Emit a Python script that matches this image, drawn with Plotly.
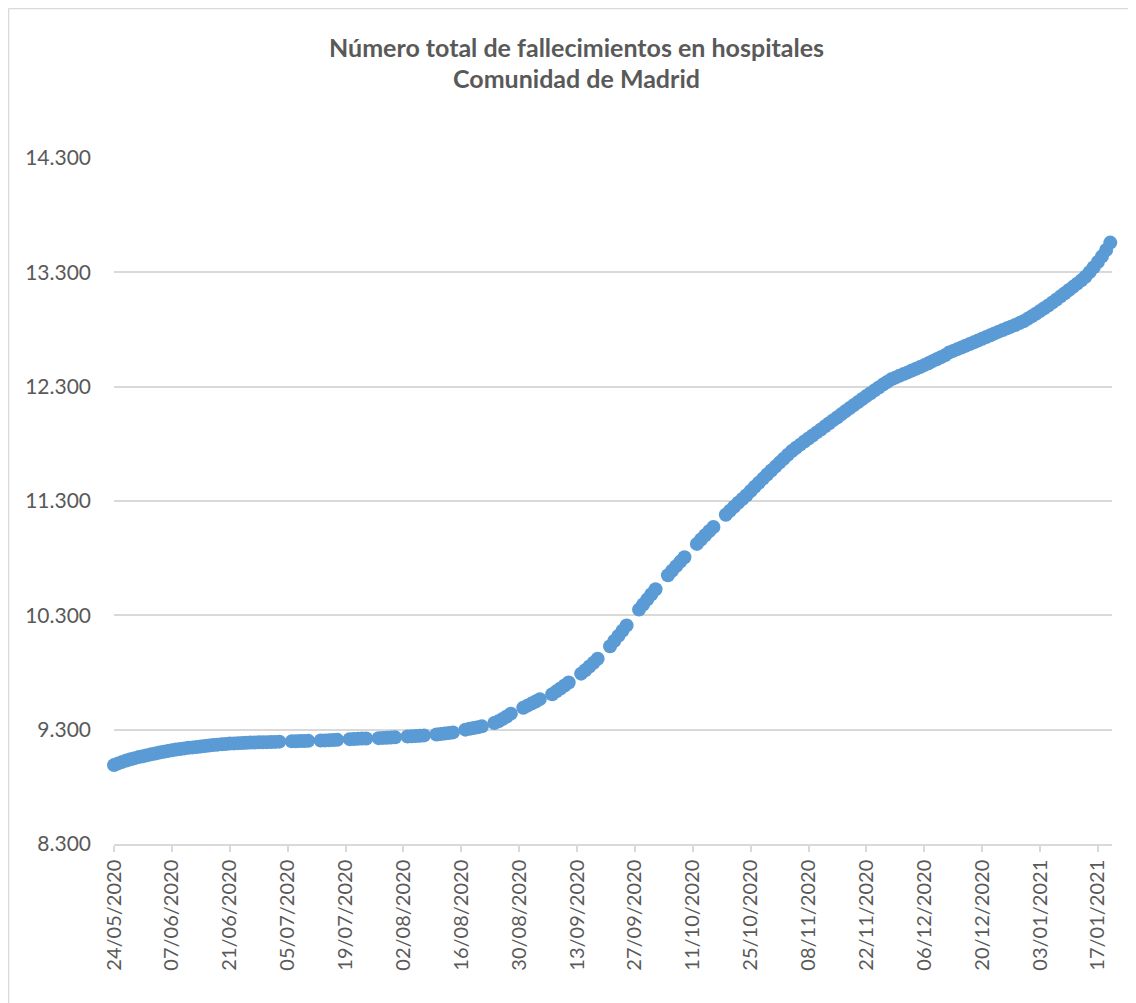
import pandas as pd
import plotly.graph_objects as go

# --- Data ---
# Daily values 24/05/2020 - 03/07/2020
vals_daily_1 = [8990, 9005, 9018, 9030, 9041, 9051, 9060, 9068, 9076, 9084,
                9092, 9100, 9107, 9114, 9120, 9126, 9131, 9136, 9141, 9145,
                9149, 9153, 9157, 9161, 9165, 9169, 9172, 9175, 9178, 9180,
                9182, 9184, 9185, 9187, 9188, 9189, 9190, 9191, 9192, 9193,
                9195]
# Weekday-only values 06/07/2020 - 23/10/2020 (no weekend reports)
vals_weekdays = [9198, 9199, 9200, 9201, 9202,
                 9205, 9206, 9208, 9209, 9211,
                 9217, 9219, 9220, 9222, 9223,
                 9226, 9228, 9229, 9231, 9233,
                 9240, 9242, 9244, 9247, 9250,
                 9258, 9262, 9266, 9270, 9276,
                 9300, 9307, 9314, 9321, 9329,
                 9358, 9374, 9393, 9415, 9440,
                 9492, 9510, 9528, 9547, 9567,
                 9610, 9635, 9660, 9686, 9712,
                 9790, 9820, 9852, 9885, 9920,
                 10030, 10075, 10120, 10165, 10212,
                 10350, 10395, 10440, 10485, 10528,
                 10650, 10690, 10730, 10770, 10808,
                 10925, 10963, 11000, 11037, 11073,
                 11180, 11215, 11250, 11285, 11318]
# Daily values 24/10/2020 - 20/01/2021
vals_daily_2 = [11350, 11387, 11424, 11460, 11496, 11532, 11567, 11601, 11636, 11670,
                11704, 11737, 11766, 11793, 11820, 11846, 11873, 11900, 11926, 11953,
                11980, 12007, 12033, 12060, 12087, 12114, 12140, 12166, 12192, 12218,
                12242, 12268, 12293, 12318, 12341, 12364, 12379, 12395, 12410, 12425,
                12441, 12456, 12471, 12488, 12505, 12523, 12540, 12557, 12574, 12598,
                12613, 12628, 12643, 12658, 12673, 12689, 12704, 12719, 12735, 12750,
                12766, 12781, 12796, 12810, 12825, 12840, 12856, 12872, 12893, 12915,
                12938, 12962, 12986, 13010, 13036, 13062, 13090, 13117, 13145, 13173,
                13201, 13230, 13262, 13302, 13345, 13390, 13440, 13495, 13560]

dates_1 = pd.date_range("2020-05-24", "2020-07-03", freq="D")
dates_w = pd.bdate_range("2020-07-06", "2020-10-23")
dates_2 = pd.date_range("2020-10-24", "2021-01-20", freq="D")

dates = list(dates_1) + list(dates_w) + list(dates_2)
values = vals_daily_1 + vals_weekdays + vals_daily_2

title_lines = ["Número total de fallecimientos en hospitales", "Comunidad de Madrid"]

TXT = "#595959"
GRID = "#d9d9d9"
BLUE = "#5b9bd5"
FONT = "Lato"

fig = go.Figure()
fig.add_trace(go.Scatter(
    x=dates, y=values, mode="markers",
    marker=dict(size=14, color=BLUE, line=dict(width=0)),
    cliponaxis=False, showlegend=False,
))

# page has an 8px body margin; figure sized so the plot lands where the reference has it
OFF = 8
W, H = 1136 - OFF, 1003 - OFF
L, R, T, B = 114 - OFF, 24, 158 - OFF, 159
ph = H - T - B
pw = W - L - R

def px_x(px):  # page px -> paper
    return (px - OFF - L) / pw

def px_y(py):
    return (H - B - (py - OFF)) / ph

fig.update_layout(
    width=W, height=H,
    margin=dict(l=L, r=R, t=T, b=B, pad=0),
    paper_bgcolor="white", plot_bgcolor="white",
    separators=",.",
    font=dict(family=FONT, color=TXT, size=20),
    xaxis=dict(
        type="date",
        range=["2020-05-24", "2021-01-20 10:00"],
        tick0="2020-05-24", dtick=14 * 86400000,
        tickformat="%d/%m/%Y", tickangle=-90,
        showgrid=False, zeroline=False,
        showline=True, linecolor=GRID, linewidth=1.5,
        ticks="outside", ticklen=6, tickcolor=GRID, tickwidth=1.5,
        tickfont=dict(family=FONT, size=20, color=TXT),
    ),
    yaxis=dict(
        range=[8300, 14300], tick0=8300, dtick=1000,
        tickformat=",d",
        showgrid=True, gridcolor=GRID, gridwidth=1.5,
        zeroline=False, showline=False, ticks="",
        ticklabelstandoff=22,
        tickfont=dict(family=FONT, size=21, color=TXT),
    ),
    shapes=[
        dict(type="line", xref="paper", yref="paper",
             x0=px_x(8.5), x1=px_x(1140), y0=px_y(8.5), y1=px_y(8.5),
             line=dict(color=GRID, width=1.5)),
        dict(type="line", xref="paper", yref="paper",
             x0=px_x(8.5), x1=px_x(8.5), y0=px_y(8.5), y1=px_y(1010),
             line=dict(color=GRID, width=1.5)),
    ],
    annotations=[
        dict(text="<b>%s</b>" % title_lines[0], xref="paper", yref="paper",
             x=px_x(576), y=px_y(47), xanchor="center", yanchor="middle",
             showarrow=False, font=dict(family=FONT, size=25, color=TXT)),
        dict(text="<b>%s</b>" % title_lines[1], xref="paper", yref="paper",
             x=px_x(576), y=px_y(78), xanchor="center", yanchor="middle",
             showarrow=False, font=dict(family=FONT, size=25, color=TXT)),
    ],
)

fig.write_html("out.html")
